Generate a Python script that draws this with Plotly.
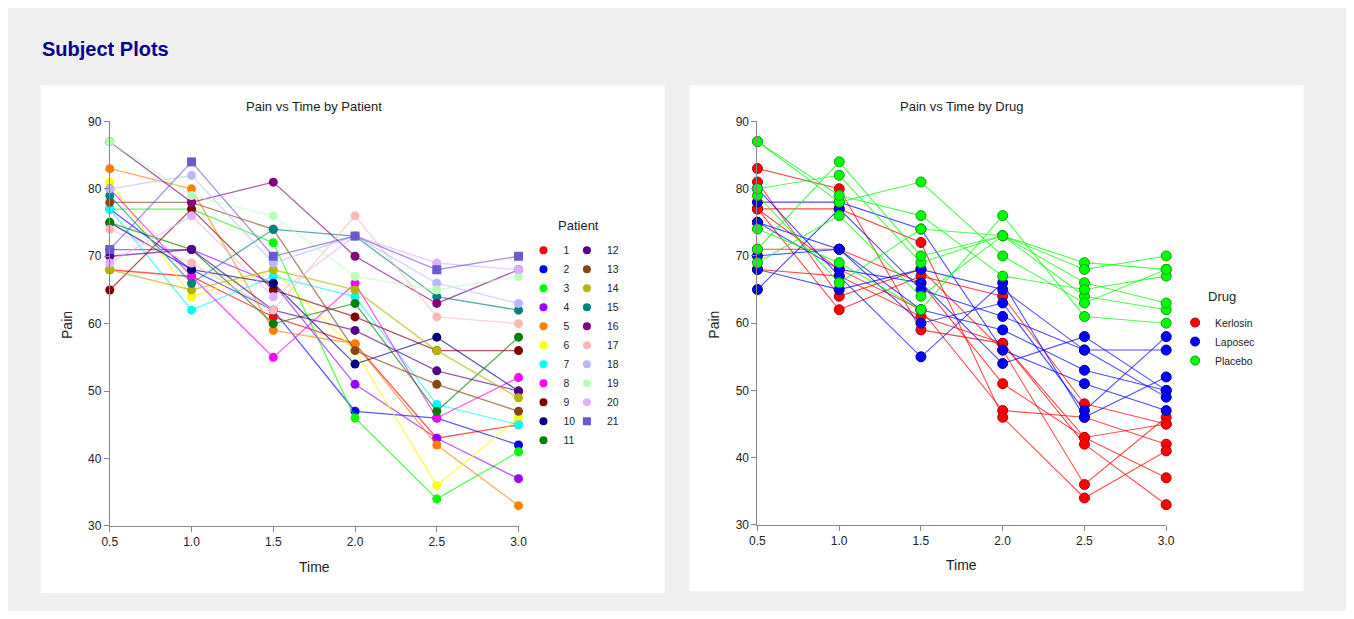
import plotly.graph_objects as go

# Page is rendered with an 8px body margin, so the figure is 16px smaller than the window
OFF = 8
W, H = 1354 - 2 * OFF, 619 - 2 * OFF

times = [0.5, 1.0, 1.5, 2.0, 2.5, 3.0]
time_labels = ["0.5", "1.0", "1.5", "2.0", "2.5", "3.0"]

patients = [str(i) for i in range(1, 22)]
pain = {
    "1":  [68, 67, 61, 57, 43, 45],
    "2":  [77, 68, 62, 47, 46, 42],
    "3":  [77, 77, 72, 46, 34, 41],
    "4":  [71, 71, 66, 51, 43, 37],
    "5":  [83, 80, 59, 57, 42, 33],
    "6":  [81, 64, 68, 56, 36, 46],
    "7":  [77, 62, 67, 64, 48, 45],
    "8":  [80, 67, 55, 66, 46, 52],
    "9":  [65, 77, 65, 61, 56, 56],
    "10": [75, 68, 66, 54, 58, 50],
    "11": [75, 71, 60, 63, 47, 58],
    "12": [70, 71, 62, 59, 53, 50],
    "13": [78, 78, 74, 56, 51, 47],
    "14": [68, 65, 68, 65, 56, 49],
    "15": [79, 66, 74, 73, 64, 62],
    "16": [87, 78, 81, 70, 63, 68],
    "17": [74, 69, 62, 76, 61, 60],
    "18": [80, 82, 69, 73, 66, 63],
    "19": [87, 79, 76, 67, 65, 67],
    "20": [69, 76, 64, 73, 69, 68],
    "21": [71, 84, 70, 73, 68, 70],
}
drug_of = ["Kerlosin"] * 7 + ["Laposec"] * 7 + ["Placebo"] * 7
drugs = ["Kerlosin", "Laposec", "Placebo"]

patient_colors = [
    (255, 0, 0), (0, 0, 255), (0, 255, 0), (153, 0, 255), (255, 128, 0),
    (255, 255, 0), (0, 255, 255), (255, 0, 255), (128, 0, 0), (0, 0, 128),
    (0, 128, 0), (85, 0, 136), (139, 69, 19), (181, 181, 0), (0, 128, 128),
    (128, 0, 128), (255, 182, 182), (184, 184, 255), (184, 255, 184),
    (224, 176, 255), (106, 90, 205),
]
drug_colors = {"Kerlosin": (255, 0, 0), "Laposec": (0, 0, 255), "Placebo": (0, 255, 0)}
drug_edge = {"Kerlosin": "#b00000", "Laposec": "#00009a", "Placebo": "#00a800"}

FONT = "Liberation Sans, Arial, sans-serif"


def rgb(c, a=1.0):
    return f"rgba({c[0]},{c[1]},{c[2]},{a})"


def px_x(p):
    return (p - OFF) / W


def px_y(p):
    return 1 - (p - OFF) / H


fig = go.Figure()

# Left chart: by patient
for i, p in enumerate(patients):
    c = patient_colors[i]
    sym = "square" if p == "21" else "circle"
    fig.add_trace(go.Scatter(
        x=times, y=pain[p], mode="lines+markers", xaxis="x", yaxis="y",
        line=dict(color=rgb(c, 0.65), width=1.3),
        marker=dict(color=rgb(c), size=9, symbol=sym, line=dict(width=0)),
        showlegend=False, cliponaxis=False, hoverinfo="skip",
    ))
for i, p in enumerate(patients):
    c = patient_colors[i]
    sym = "square" if p == "21" else "circle"
    fig.add_trace(go.Scatter(
        x=[None], y=[None], mode="markers", name=p,
        marker=dict(color=rgb(c), size=8, symbol=sym),
        legend="legend" if i < 11 else "legend2", showlegend=True,
    ))

# Right chart: by drug
for i, p in enumerate(patients):
    d = drug_of[i]
    c = drug_colors[d]
    fig.add_trace(go.Scatter(
        x=times, y=pain[p], mode="lines+markers", xaxis="x2", yaxis="y2",
        line=dict(color=rgb(c, 0.7), width=1.1),
        marker=dict(color=rgb(c), size=10, line=dict(width=1, color=drug_edge[d])),
        showlegend=False, cliponaxis=False, hoverinfo="skip",
    ))
for d in drugs:
    c = drug_colors[d]
    fig.add_trace(go.Scatter(
        x=[None], y=[None], mode="markers", name=d,
        marker=dict(color=rgb(c), size=9, line=dict(width=1, color=drug_edge[d])),
        legend="legend3", showlegend=True,
    ))

axis_common = dict(
    showline=True, linecolor="#888888", linewidth=1, ticks="outside", ticklen=5,
    tickcolor="#888888", showgrid=False, zeroline=False,
    tickfont=dict(family=FONT, size=12, color="#222222"),
)

legend_common = dict(xanchor="left", yanchor="top", bgcolor="rgba(0,0,0,0)",
                     font=dict(family=FONT, size=10.4, color="#222222"),
                     itemclick=False, itemdoubleclick=False, tracegroupgap=0)

fig.update_layout(
    width=W, height=H, autosize=False,
    margin=dict(l=0, r=0, t=0, b=0),
    paper_bgcolor="#efefef", plot_bgcolor="white",
    font=dict(family=FONT, color="#222222"),
    xaxis=dict(domain=[px_x(103), px_x(517)], range=[0.5, 3.0], tickvals=times,
               ticktext=time_labels, anchor="y", **axis_common),
    yaxis=dict(domain=[px_y(531), px_y(117)], range=[30, 90], tickvals=[30, 40, 50, 60, 70, 80, 90],
               anchor="x", **axis_common),
    xaxis2=dict(domain=[px_x(759), px_x(1173)], range=[0.5, 3.0], tickvals=times,
                ticktext=time_labels, anchor="y2", **axis_common),
    yaxis2=dict(domain=[px_y(530), px_y(117)], range=[30, 90], tickvals=[30, 40, 50, 60, 70, 80, 90],
                anchor="x2", **axis_common),
    legend=dict(x=px_x(522), y=px_y(234), **legend_common),
    legend2=dict(x=px_x(566), y=px_y(234), **legend_common),
    legend3=dict(x=px_x(1182), y=px_y(308), **legend_common),
    shapes=[
        dict(type="rect", xref="paper", yref="paper", x0=px_x(33), x1=px_x(665),
             y0=px_y(600), y1=px_y(80), fillcolor="white", line=dict(width=0), layer="below"),
        dict(type="rect", xref="paper", yref="paper", x0=px_x(690), x1=px_x(1312),
             y0=px_y(598), y1=px_y(80), fillcolor="white", line=dict(width=0), layer="below"),
    ],
)

annotations = [
    dict(text="<b>Subject Plots</b>", x=px_x(32), y=px_y(43), xanchor="left", yanchor="middle",
         font=dict(family=FONT, size=20, color="#00008b")),
    dict(text="Pain vs Time by Patient", x=px_x(310), y=px_y(102), xanchor="center", yanchor="middle",
         font=dict(family=FONT, size=13, color="#222222")),
    dict(text="Pain vs Time by Drug", x=px_x(966), y=px_y(102), xanchor="center", yanchor="middle",
         font=dict(family=FONT, size=13, color="#222222")),
    dict(text="Time", x=px_x(310), y=px_y(573), xanchor="center", yanchor="middle",
         font=dict(family=FONT, size=14, color="#222222")),
    dict(text="Time", x=px_x(966), y=px_y(571), xanchor="center", yanchor="middle",
         font=dict(family=FONT, size=14, color="#222222")),
    dict(text="Pain", x=px_x(59), y=px_y(325), xanchor="center", yanchor="middle", textangle=-90,
         font=dict(family=FONT, size=14, color="#222222")),
    dict(text="Pain", x=px_x(715), y=px_y(325), xanchor="center", yanchor="middle", textangle=-90,
         font=dict(family=FONT, size=14, color="#222222")),
    dict(text="Patient", x=px_x(578), y=px_y(224), xanchor="center", yanchor="middle",
         font=dict(family=FONT, size=13, color="#222222")),
    dict(text="Drug", x=px_x(1230), y=px_y(296), xanchor="center", yanchor="middle",
         font=dict(family=FONT, size=13, color="#222222")),
]
for a in annotations:
    a.update(xref="paper", yref="paper", showarrow=False)
fig.update_layout(annotations=annotations)

fig.write_html("out.html")
